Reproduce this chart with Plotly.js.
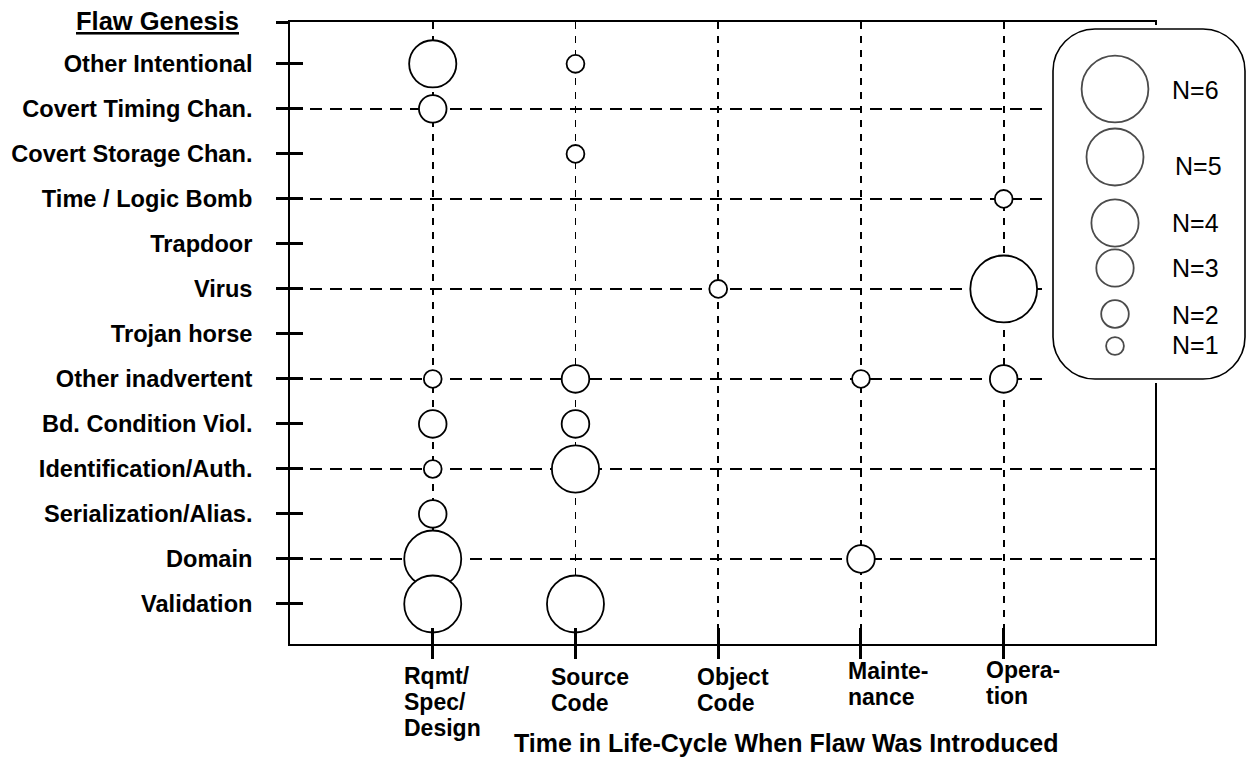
<!DOCTYPE html>
<html>
<head>
<meta charset="utf-8">
<script src="https://cdn.plot.ly/plotly-3.0.1.min.js"></script>
<style>
  html, body { margin: 0; padding: 0; background: #ffffff; }
  #chart { width: 1247px; height: 759px; }
</style>
</head>
<body>
<div id="chart"></div>
<script>
// ---------------- DATA ----------------
// Flaw genesis categories (bottom to top)
const flawTypes = [
  'Validation', 'Domain', 'Serialization/Alias.', 'Identification/Auth.',
  'Bd. Condition Viol.', 'Other inadvertent', 'Trojan horse', 'Virus',
  'Trapdoor', 'Time / Logic Bomb', 'Covert Storage Chan.',
  'Covert Timing Chan.', 'Other Intentional'
];
const headerLabel = 'Flaw Genesis';
// Life-cycle phases (x axis)
const phases = ['Rqmt/<br>Spec/<br>Design', 'Source<br>Code', 'Object<br>Code', 'Mainte-<br>nance', 'Opera-<br>tion'];
const xTitle = 'Time in Life-Cycle When Flaw Was Introduced';
// Number of flaws per category (same order as flawTypes), one array per phase
const rqmtSpecDesign = [5, 5, 2, 1, 2, 1, 0, 0, 0, 0, 0, 2, 4];
const sourceCode     = [5, 0, 0, 4, 2, 2, 0, 0, 0, 0, 1, 0, 1];
const objectCode     = [0, 0, 0, 0, 0, 0, 0, 1, 0, 0, 0, 0, 0];
const maintenance    = [0, 2, 0, 0, 0, 1, 0, 0, 0, 0, 0, 0, 0];
const operation      = [0, 0, 0, 0, 0, 2, 0, 6, 0, 1, 0, 0, 0];
// Legend sizes
const legendN = [6, 5, 4, 3, 2, 1];
// Rows that carry a dashed horizontal guide line
const dashedRows = [1, 3, 5, 7, 9, 11];

// ---------------- STYLE / LAYOUT HELPERS ----------------
const FONT = 'Arial, "Liberation Sans", Helvetica, sans-serif';
const sizeOf = n => 9.8 * n + 8;           // marker diameter in px for count n
const W = 1247, H = 759;
const M = { l: 290, r: 0, t: 22, b: 115 };
const PW = W - M.l - M.r, PH = H - M.t - M.b;
const px2x = px => (px - M.l) / PW;        // page px -> paper x
const px2y = py => (H - M.b - py) / PH;    // page px -> paper y
const plotRightPx = 1155;

// legend layout (pixel-valued axes)
const legBox = { L: 1053, R: 1245, T: 29, B: 379, r: 42 };
const legDom = { L: 1049, R: 1247, T: 25, B: 383 };
const legCircleX = 1115;
const legCircleY = [89, 157, 223, 268, 314, 346];
const legTextX = [1170, 1173, 1170, 1170, 1170, 1170];
const legTextY = [90, 166, 223, 268, 315, 345];

// x label placement (style)
const xLabShift = [-31, -26, -23, -15, -20];
const xLabFirstY = [676, 677, 677, 671, 670];
const xLabLineGap = 26;

// ---------------- BUILD TRACES ----------------
const series = [rqmtSpecDesign, sourceCode, objectCode, maintenance, operation];
const bx = [], by = [], bn = [];
for (let r = flawTypes.length - 1; r >= 0; r--) {
  for (let p = 0; p < series.length; p++) {
    const n = series[p][r];
    if (n > 0) { bx.push(p); by.push(r); bn.push(n); }
  }
}

const bubbles = {
  type: 'scatter', mode: 'markers', x: bx, y: by,
  xaxis: 'x', yaxis: 'y',
  marker: { size: bn.map(sizeOf), color: '#ffffff', line: { color: '#000000', width: 1.8 }, opacity: 1 },
  text: bn.map((n, i) => flawTypes[by[i]] + ': N=' + n),
  hoverinfo: 'text', cliponaxis: false, showlegend: false
};
const reg = (xa, ya) => ({ type: 'scatter', mode: 'markers', x: [], y: [], xaxis: xa, yaxis: ya, showlegend: false, hoverinfo: 'skip' });

const legendMarkers = {
  type: 'scatter', mode: 'markers',
  x: legendN.map(() => legCircleX), y: legCircleY,
  xaxis: 'x3', yaxis: 'y4',
  marker: { size: legendN.map(sizeOf), color: '#ffffff', line: { color: '#000000', width: 1.8 } },
  text: legendN.map(n => 'N=' + n), hoverinfo: 'text', cliponaxis: false, showlegend: false
};

// rounded legend box path (in legend pixel coords)
const k = 0.5523 * legBox.r;
const { L, R, T, B, r } = legBox;
const boxPath = [
  `M ${L + r},${T}`, `L ${R - r},${T}`,
  `C ${R - r + k},${T} ${R},${T + r - k} ${R},${T + r}`,
  `L ${R},${B - r}`,
  `C ${R},${B - r + k} ${R - r + k},${B} ${R - r},${B}`,
  `L ${L + r},${B}`,
  `C ${L + r - k},${B} ${L},${B - r + k} ${L},${B - r}`,
  `L ${L},${T + r}`,
  `C ${L},${T + r - k} ${L + r - k},${T} ${L + r},${T}`, 'Z'
].join(' ');

// ---------------- ANNOTATIONS ----------------
const annotations = [];
// x tick labels: left aligned blocks, one annotation per line
phases.forEach((lab, i) => {
  lab.split('<br>').forEach((line, j) => {
    annotations.push({
      text: '<b>' + line + '</b>', xref: 'x', yref: 'paper', x: i,
      y: px2y(xLabFirstY[i] + j * xLabLineGap),
      xanchor: 'left', yanchor: 'middle', align: 'left', showarrow: false,
      xshift: xLabShift[i],
      font: { family: FONT, size: 23, color: '#000000' }
    });
  });
});
// x axis title
annotations.push({
  text: '<b>' + xTitle + '</b>', xref: 'paper', yref: 'paper',
  x: px2x(786), y: px2y(743), xanchor: 'center', yanchor: 'middle', showarrow: false,
  font: { family: FONT, size: 25, color: '#000000' }
});
// header
annotations.push({
  text: '<b><u>' + headerLabel + '</u></b>', xref: 'paper', yref: 'paper',
  x: px2x(241), y: px2y(21), xanchor: 'right', yanchor: 'middle', showarrow: false,
  font: { family: FONT, size: 25.5, color: '#000000' }
});
// legend texts
legendN.forEach((n, i) => {
  annotations.push({
    text: 'N=' + n, xref: 'x3', yref: 'y4', x: legTextX[i], y: legTextY[i],
    xanchor: 'left', yanchor: 'middle', showarrow: false,
    font: { family: FONT, size: 25, color: '#000000' }
  });
});

// ---------------- LAYOUT ----------------
const xRange = [-1, 5.06];
const yRange = [-0.889, 12.93];
const yIdx = flawTypes.map((_, i) => i).concat([yRange[1]]);   // last tick = header row at top edge
const xIdx = phases.map((_, i) => i);
const xDom = [0, px2x(plotRightPx)];

const layout = {
  width: W, height: H, margin: M,
  paper_bgcolor: '#ffffff', plot_bgcolor: '#ffffff',
  showlegend: false, hovermode: 'closest',
  font: { family: FONT, color: '#000000' },
  xaxis: {
    domain: xDom, range: xRange, anchor: 'y', tickmode: 'array', tickvals: xIdx,
    showticklabels: false, ticks: 'outside', ticklen: 13, tickwidth: 3, tickcolor: '#000000',
    showline: true, linecolor: '#000000', linewidth: 1.8, mirror: true,
    showgrid: true, gridcolor: '#000000', gridwidth: 1.6, griddash: '7px,7px',
    zeroline: false, fixedrange: true
  },
  xaxis2: {
    overlaying: 'x', anchor: 'y', range: xRange, tickmode: 'array', tickvals: xIdx,
    showticklabels: false, ticks: 'inside', ticklen: 16, tickwidth: 3, tickcolor: '#000000',
    showline: false, showgrid: false, zeroline: false, fixedrange: true
  },
  yaxis: {
    domain: [0, 1], range: yRange, anchor: 'x', tickmode: 'array', tickvals: yIdx,
    ticktext: flawTypes.concat(['']),
    tickfont: { family: FONT, size: 23.6, color: '#000000', weight: 'bold' },
    ticks: 'outside', ticklen: 12, tickwidth: 3, tickcolor: '#000000', ticklabelstandoff: 19,
    showline: true, linecolor: '#000000', linewidth: 1.8, mirror: true,
    showgrid: false, zeroline: false, fixedrange: true
  },
  yaxis2: {
    overlaying: 'y', anchor: 'x', range: yRange, tickmode: 'array', tickvals: yIdx,
    showticklabels: false, ticks: 'inside', ticklen: 13, tickwidth: 3, tickcolor: '#000000',
    showline: false, showgrid: false, zeroline: false, fixedrange: true
  },
  yaxis3: {
    overlaying: 'y', anchor: 'x', range: yRange, tickmode: 'array', tickvals: dashedRows,
    showticklabels: false, ticks: '',
    showgrid: true, gridcolor: '#000000', gridwidth: 1.6, griddash: '12px,8px',
    showline: false, zeroline: false, fixedrange: true
  },
  xaxis3: {
    domain: [px2x(legDom.L), 1], range: [legDom.L, legDom.R], anchor: 'y4',
    visible: false, fixedrange: true
  },
  yaxis4: {
    domain: [px2y(legDom.B), px2y(legDom.T)], range: [legDom.B, legDom.T], anchor: 'x3',
    visible: false, fixedrange: true
  },
  shapes: [{
    type: 'path', xref: 'x3', yref: 'y4', path: boxPath, layer: 'below',
    fillcolor: '#ffffff', line: { color: '#000000', width: 1.6 }
  }],
  annotations: annotations
};

const data = [reg('x2', 'y'), reg('x', 'y2'), reg('x', 'y3'), bubbles, legendMarkers];
Plotly.newPlot('chart', data, layout, { displayModeBar: false, staticPlot: true });
</script>
</body>
</html>
